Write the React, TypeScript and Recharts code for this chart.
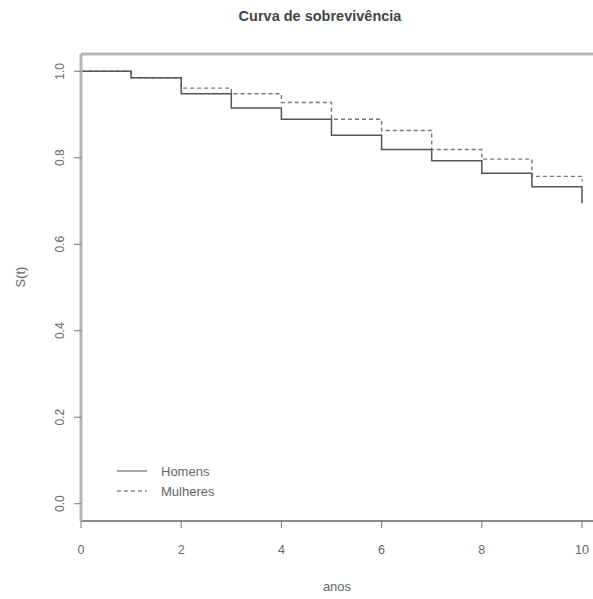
import React from 'react';
import { LineChart, Line, XAxis, YAxis, ReferenceLine } from 'recharts';

const years = [0, 1, 2, 3, 4, 5, 6, 7, 8, 9, 10];
const homens = [1.0, 0.985, 0.948, 0.915, 0.889, 0.852, 0.819, 0.793, 0.764, 0.733, 0.695];
const mulheres = [1.0, 0.985, 0.961, 0.948, 0.928, 0.889, 0.863, 0.819, 0.797, 0.757, 0.745];
const xTicks = [0, 2, 4, 6, 8, 10];
const yTicks = [0, 0.2, 0.4, 0.6, 0.8, 1.0];
const seriesNames = ['Homens', 'Mulheres'];

const data = years.map((t, i) => ({ t, homens: homens[i], mulheres: mulheres[i] }));

const FONT = '"Liberation Sans", Arial, sans-serif';
const TEXT = '#666';

const YTick = (props: any) => {
  const { x, y, payload } = props;
  return (
    <text
      x={x}
      y={y}
      transform={`rotate(-90, ${x}, ${y})`}
      textAnchor="middle"
      fontSize={12}
      fill={TEXT}
      fontFamily={FONT}
    >
      {payload.value.toFixed(1)}
    </text>
  );
};

const LegendBox = () => (
  <div style={{ position: 'absolute', left: 117, top: 461, fontFamily: FONT, fontSize: 13, color: TEXT }}>
    <div style={{ display: 'flex', alignItems: 'center', height: 20 }}>
      <svg width={30} height={4} style={{ marginRight: 14 }}>
        <line x1={0} y1={2} x2={30} y2={2} stroke="#777" strokeWidth={1.3} />
      </svg>
      <span>{seriesNames[0]}</span>
    </div>
    <div style={{ display: 'flex', alignItems: 'center', height: 20 }}>
      <svg width={30} height={4} style={{ marginRight: 14 }}>
        <line x1={0} y1={2} x2={30} y2={2} stroke="#888" strokeWidth={1.3} strokeDasharray="4 3" />
      </svg>
      <span>{seriesNames[1]}</span>
    </div>
  </div>
);

export default function App() {
  return (
    <div style={{ position: 'absolute', left: 0, top: 0, width: 593, height: 599, background: '#fff' }}>
      <div
        style={{
          position: 'absolute',
          left: 0,
          width: 640,
          top: 8,
          textAlign: 'center',
          fontFamily: FONT,
          fontWeight: 'bold',
          fontSize: 14.5,
          color: '#444',
        }}
      >
        Curva de sobrevivência
      </div>
      <LineChart
        width={593}
        height={599}
        data={data}
        margin={{ top: 54, right: 0, bottom: 0, left: 0 }}
      >
        <XAxis
          dataKey="t"
          type="number"
          domain={[0, 10.22]}
          ticks={xTicks}
          allowDataOverflow
          height={78}
          axisLine={{ stroke: '#666', strokeWidth: 1.4 }}
          tickLine={{ stroke: '#777' }}
          tickSize={7}
          tickMargin={17}
          tick={{ fontSize: 12.5, fill: TEXT, fontFamily: FONT }}
          label={{ value: 'anos', position: 'insideBottom', offset: 8, fontSize: 13, fill: TEXT, fontFamily: FONT }}
        />
        <YAxis
          type="number"
          domain={[-0.04, 1.04]}
          ticks={yTicks}
          allowDataOverflow
          width={81}
          axisLine={{ stroke: '#b5b5b5', strokeWidth: 3 }}
          tickLine={{ stroke: '#777' }}
          tickSize={7}
          tickMargin={10}
          tick={<YTick />}
          label={{ value: 'S(t)', angle: -90, position: 'insideLeft', offset: 20, fontSize: 13, fill: TEXT, fontFamily: FONT }}
        />
        <ReferenceLine y={1.04} stroke="#b5b5b5" strokeWidth={3} />
        <Line
          type="stepAfter"
          dataKey="mulheres"
          name={seriesNames[1]}
          stroke="#777"
          strokeWidth={1.4}
          strokeDasharray="4 3"
          dot={false}
          isAnimationActive={false}
        />
        <Line
          type="stepAfter"
          dataKey="homens"
          name={seriesNames[0]}
          stroke="#555"
          strokeWidth={1.5}
          dot={false}
          isAnimationActive={false}
        />
      </LineChart>
      <LegendBox />
    </div>
  );
}
